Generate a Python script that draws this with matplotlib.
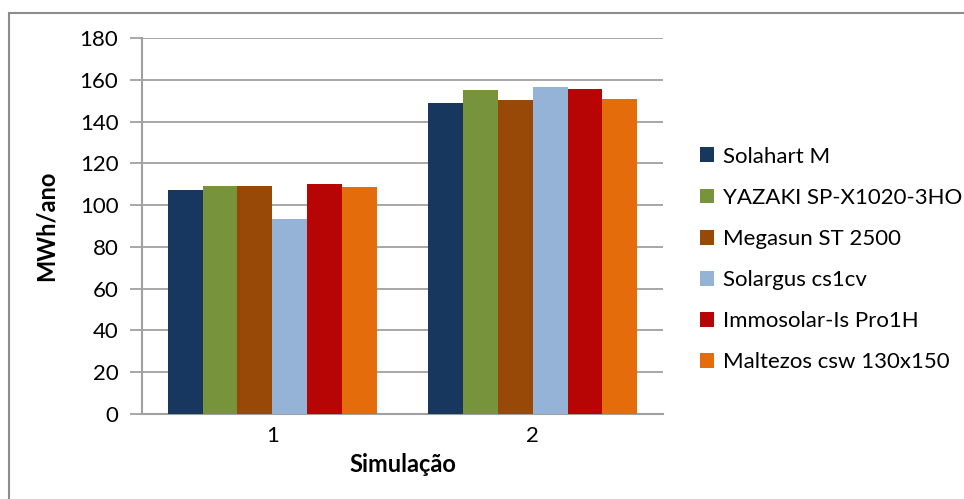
import matplotlib
matplotlib.use("Agg")
import matplotlib.pyplot as plt
from matplotlib.patches import Rectangle
import numpy as np

plt.rcParams['font.family'] = ['Lato', 'DejaVu Sans']

categories = ["1", "2"]
series_names = [
    "Solahart M",
    "YAZAKI SP-X1020-3HO",
    "Megasun ST 2500",
    "Solargus cs1cv",
    "Immosolar-Is Pro1H",
    "Maltezos csw 130x150",
]
values = [
    [107.2, 148.7],
    [109.3, 155.0],
    [109.3, 150.2],
    [93.2, 156.4],
    [110.3, 155.6],
    [108.8, 150.6],
]
colors = ["#17375E", "#77933C", "#984807", "#95B3D7", "#B70404", "#E46C0A"]
y_ticks = [0, 20, 40, 60, 80, 100, 120, 140, 160, 180]

fig = plt.figure(figsize=(9.64, 4.99), dpi=100)
ax = fig.add_axes([142 / 964, 1 - 414 / 499, (663 - 142) / 964, (414 - 38) / 499])

# outer chart border (top and left edges fall inside the image)
fig.patches.append(Rectangle((9 / 964, -0.1), 1.2, 1 - 13.5 / 499 + 0.1,
                             transform=fig.transFigure, fill=False,
                             edgecolor="#8c8c8c", linewidth=1.5))

n = len(series_names)
x = np.arange(len(categories))
bar_w = 1.0 / (n + 1.48)
offsets = (np.arange(n) - (n - 1) / 2) * bar_w
for i in range(n):
    ax.bar(x + offsets[i], values[i], width=bar_w, color=colors[i],
           label=series_names[i], zorder=3, linewidth=0)

ax.set_xlim(-0.5, 1.5)
ax.set_ylim(0, 180)
ax.set_yticks(y_ticks)
ax.set_xticks(x)
ax.set_xticklabels(categories)
ax.yaxis.grid(True, color="#a0a0a0", linewidth=1.3, zorder=0)
for s in ["top", "right"]:
    ax.spines[s].set_visible(False)
for s in ["left", "bottom"]:
    ax.spines[s].set_color("#a0a0a0")
    ax.spines[s].set_linewidth(1.5)
ax.tick_params(axis="y", length=9, width=1.3, color="#a0a0a0", labelsize=16, pad=8)
ax.tick_params(axis="x", length=0, labelsize=16, pad=9)

ax.set_ylabel("MWh/ano", fontsize=17, fontweight="bold", labelpad=16)
ax.set_xlabel("Simulação", fontsize=17, fontweight="bold", labelpad=5)

leg = fig.legend(loc="center left", bbox_to_anchor=(680 / 964, 1 - 259.5 / 499),
                 frameon=False, fontsize=16, handlelength=0.65, handleheight=0.65,
                 handletextpad=0.4, labelspacing=0.95)

fig.savefig("out.png", dpi=100)
